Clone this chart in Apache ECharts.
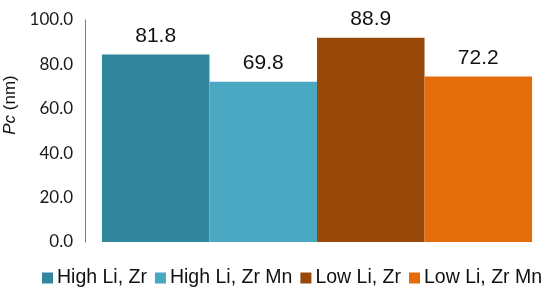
<!DOCTYPE html>
<html>
<head>
<meta charset="utf-8">
<script src="https://cdn.jsdelivr.net/npm/echarts@6/dist/echarts.min.js"></script>
<style>
  html, body { margin: 0; padding: 0; background: #fff; }
  #chart { width: 550px; height: 295px; }
</style>
</head>
<body>
<div id="chart"></div>
<script>
// series names (legend)
var seriesNames = ['High Li, Zr', 'High Li, Zr Mn', 'Low Li, Zr', 'Low Li, Zr Mn'];
// bar heights as drawn in the picture
var barHeights = [84.5, 72.2, 92.0, 74.5];
// value labels printed above the bars
var valueLabels = ['81.8', '69.8', '88.9', '72.2'];
var barColors = ['#31859C', '#4BA8C2', '#984807', '#E46C0A'];

var series = [];
for (var i = 0; i < seriesNames.length; i++) {
    series.push({
        name: seriesNames[i],
        type: 'bar',
        barGap: '0%',
        barCategoryGap: '7.3%',
        itemStyle: { color: barColors[i] },
        label: {
            show: true,
            position: 'top',
            distance: 8,
            formatter: (function (t) { return function () { return t; }; })(valueLabels[i]),
            fontFamily: 'Liberation Sans, Arial, sans-serif',
            fontSize: 21,
            color: '#111'
        },
        data: [barHeights[i]]
    });
}

var myChart = echarts.init(document.getElementById('chart'));
var option = {
    animation: false,
    grid: { left: 85, right: 1, top: 20, bottom: 53, containLabel: false, outerBoundsMode: 'none' },
    legend: {
        top: 263,
        left: 37,
        width: 513,
        itemWidth: 11,
        itemHeight: 11,
        itemGap: 8,
        icon: 'rect',
        textStyle: {
            fontFamily: 'Liberation Sans, Arial, sans-serif',
            fontSize: 19.5,
            color: '#111',
            padding: [0, 0, 0, -1]
        },
        data: seriesNames
    },
    xAxis: {
        type: 'category',
        data: [''],
        axisLine: { show: false },
        axisTick: { show: false },
        axisLabel: { show: false }
    },
    yAxis: {
        type: 'value',
        min: 0,
        max: 100,
        interval: 20,
        name: '{i|Pc}{n| (nm)}',
        nameLocation: 'middle',
        nameRotate: 90,
        nameGap: 62,
        nameTextStyle: {
            fontSize: 17,
            fontFamily: 'Liberation Sans',
            color: '#111',
            padding: [0, 0, 0, 52],
            rich: {
                i: { fontStyle: 'italic', fontSize: 17, fontFamily: 'Liberation Sans', color: '#111' },
                n: { fontSize: 17, fontFamily: 'Liberation Sans', color: '#111' }
            }
        },
        axisLine: { show: true, lineStyle: { color: '#7f7f7f', width: 1 } },
        axisTick: { show: false },
        splitLine: { show: false },
        axisLabel: {
            margin: 12,
            fontFamily: 'Lato, sans-serif',
            fontSize: 17,
            color: '#1a1a1a',
            formatter: function (v) { return v.toFixed(1); }
        }
    },
    series: series
};
myChart.setOption(option);
</script>
</body>
</html>
